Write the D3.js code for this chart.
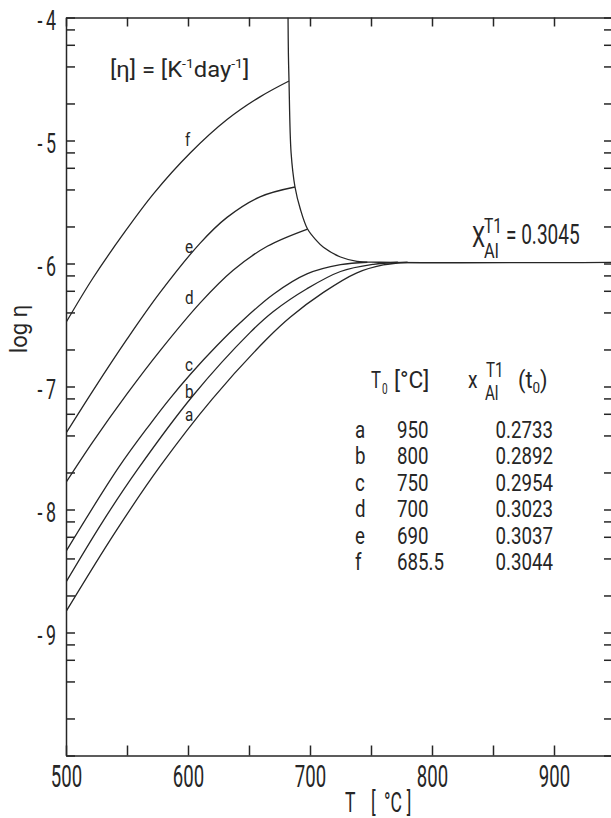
<!DOCTYPE html>
<html>
<head>
<meta charset="utf-8">
<script src="https://cdn.jsdelivr.net/npm/d3@7"></script>
<style>
  body { margin: 0; background: #fff; }
  svg { display: block; background: #fff; }
  text { font-family: Roboto, "Liberation Sans", sans-serif; font-weight: 400; fill: #262626; }
</style>
</head>
<body>
<svg id="chart" width="611" height="818"></svg>
<script>
// ---- axis ticks ----
const xTickValues = [500, 550, 600, 650, 700, 750, 800, 850, 900, 950];
const xTickLabels = [500, 600, 700, 800, 900];
const yDecades = [-10, -9, -8, -7, -6, -5];
const yTickLabels = [-4, -5, -6, -7, -8, -9];
const minorMantissa = [2, 4, 6, 8];

// ---- log η(T) for each starting temperature T0: [T (°C), log η] ----
const curveA = [[500,-8.83],[540,-8.19],[577,-7.65],[620,-7.10],[665,-6.61],[684,-6.435],[711,-6.235],[738,-6.078],[760,-6.012],[780,-5.99]];
const curveB = [[500,-8.59],[530,-8.10],[559,-7.67],[604,-7.075],[651,-6.56],[670,-6.39],[697.5,-6.205],[725,-6.065],[752,-6.007],[772,-5.99]];
const curveC = [[500,-8.34],[543,-7.66],[569,-7.305],[585,-7.10],[602,-6.90],[624,-6.665],[643,-6.48],[670,-6.25],[697.5,-6.085],[725,-6.01],[747,-5.99]];
const curveD = [[500,-7.78],[522,-7.45],[550,-7.06],[577,-6.71],[610,-6.32],[637,-6.055],[665,-5.86],[698,-5.72]];
const curveE = [[500,-7.38],[522,-7.035],[550,-6.615],[577,-6.237],[610,-5.834],[632,-5.625],[659,-5.458],[687.7,-5.378]];
const curveF = [[500,-6.48],[522,-6.12],[547,-5.76],[572,-5.43],[602,-5.10],[632,-4.83],[659,-4.645],[682.8,-4.516]];

// envelope through the curve end points, running into the x = 0.3045 plateau
const envelope = [[682.0,-4.0],[682.3,-4.3],[682.8,-4.516],[684.5,-5.1],[687.7,-5.378],[692,-5.555],[698,-5.72],[705,-5.81],[711,-5.868],[725,-5.947],[738.5,-5.982],[757,-5.99],[950,-5.99]];

const curveNames = ["a", "b", "c", "d", "e", "f"];
const curveData = [curveA, curveB, curveC, curveD, curveE, curveF];

// ---- table of start conditions ----
const tableT0 = ["950", "800", "750", "700", "690", "685.5"];
const tableXAl = ["0.2733", "0.2892", "0.2954", "0.3023", "0.3037", "0.3044"];
const plateauLabel = "0.3045";

// ---------------------------------------------------------------
const svg = d3.select("#chart");
const ink = "#262626";

const x = d3.scaleLinear().domain([500, 950]).range([66, 615]);
const y = d3.scaleLinear().domain([-4, -10]).range([17.5, 755.5]);

// log-spaced tick set for the η axis
const yTickValues = [-4];
yDecades.forEach(n => {
  yTickValues.push(n);
  minorMantissa.forEach(k => yTickValues.push(n + Math.log10(k)));
});

function txt(px, py, str, size, sx, anchor) {
  const t = svg.append("text")
    .attr("transform", `translate(${px},${py}) scale(${sx},1)`)
    .attr("font-size", size)
    .attr("text-anchor", anchor || "start");
  if (str !== null) t.text(str);
  return t;
}

function styleAxis(g) {
  g.attr("font-family", null).attr("font-size", null).attr("color", ink);
  g.selectAll("path, line").attr("stroke-width", 1.5);
}

// bottom axis with labels
const gBottom = svg.append("g")
  .attr("transform", `translate(0,${y(-10)})`)
  .call(d3.axisBottom(x).tickValues(xTickValues).tickSizeInner(-10).tickSizeOuter(0)
    .tickFormat(d => xTickLabels.includes(d) ? String(d) : ""));
styleAxis(gBottom);
gBottom.selectAll("text")
  .attr("y", null).attr("dy", null).attr("fill", null)
  .attr("font-size", 31)
  .attr("transform", "translate(0,31) scale(0.6,1)");

// top axis
const gTop = svg.append("g")
  .attr("transform", `translate(0,${y(-4)})`)
  .call(d3.axisTop(x).tickValues(xTickValues).tickSizeInner(-9).tickSizeOuter(0).tickFormat(""));
styleAxis(gTop);

// left axis with labels
const gLeft = svg.append("g")
  .attr("transform", `translate(${x(500)},0)`)
  .call(d3.axisLeft(y).tickValues(yTickValues).tickSizeInner(-9).tickSizeOuter(0)
    .tickFormat(d => yTickLabels.includes(d) ? "-\u2009" + Math.abs(d) : ""));
styleAxis(gLeft);
gLeft.selectAll("text")
  .attr("x", null).attr("dy", null).attr("fill", null)
  .attr("font-size", 27)
  .attr("transform", "translate(-10,11.5) scale(0.66,1)");

// right axis
const gRight = svg.append("g")
  .attr("transform", `translate(${x(950)},0)`)
  .call(d3.axisRight(y).tickValues(yTickValues).tickSizeInner(-11).tickSizeOuter(0).tickFormat(""));
styleAxis(gRight);

// plot clip
svg.append("clipPath").attr("id", "plotClip")
  .append("rect").attr("x", x(500)).attr("y", y(-4))
  .attr("width", x(950) - x(500)).attr("height", y(-10) - y(-4));

const line = d3.line()
  .x(d => x(d[0]))
  .y(d => y(d[1]))
  .curve(d3.curveCatmullRom.alpha(0.5));

const plot = svg.append("g").attr("clip-path", "url(#plotClip)");

plot.selectAll("path.eta")
  .data(curveData)
  .join("path")
  .attr("class", "eta")
  .attr("d", line)
  .attr("fill", "none")
  .attr("stroke", ink)
  .attr("stroke-width", 1.3);

plot.append("path")
  .attr("d", line(envelope))
  .attr("fill", "none")
  .attr("stroke", ink)
  .attr("stroke-width", 1.3);

// curve letters placed just above each curve near T = 600 °C
const letterSpots = { a: -7.28, b: -7.09, c: -6.87, d: -6.33, e: -5.915, f: -5.045 };
curveNames.forEach(n => {
  txt(x(597.5), y(letterSpots[n]), n, 19, 0.8);
});

// unit note
const unit = txt(110, 77, null, 22, 1.08);
unit.append("tspan").text("[η] = [K");
unit.append("tspan").attr("font-size", 13).attr("dy", -9).text("-1");
unit.append("tspan").attr("dy", 9).text("day");
unit.append("tspan").attr("font-size", 13).attr("dy", -9).text("-1");
unit.append("tspan").attr("dy", 9).text("]");

// plateau label
txt(472, 247, "X", 29, 0.72);
txt(484, 233, "T1", 20, 0.78);
txt(484, 258, "Al", 21, 0.78);
txt(506, 244, "= " + plateauLabel, 28, 0.68);

// table header
txt(371, 388, "T", 24, 0.7);
txt(382, 394, "0", 14, 0.72);
txt(394, 388, "[°C]", 24, 0.95);
txt(468, 388, "x", 24, 0.8);
txt(486, 377, "T1", 21, 0.72);
txt(485, 400, "Al", 21, 0.72);
const tHead = txt(518, 388, null, 24, 0.9);
tHead.append("tspan").text("(t");
tHead.append("tspan").attr("font-size", 15).attr("dy", 5).text("0");
tHead.append("tspan").attr("dy", -5).text(")");

// table rows
curveNames.forEach((n, i) => {
  const by = 438 + i * 26.4;
  txt(355, by, n, 24, 0.78);
  txt(397, by, tableT0[i], 24, 0.78);
  txt(553, by, tableXAl[i], 24, 0.78, "end");
});

// axis titles
txt(27, 329, null, 24, 0.92, "middle")
  .attr("transform", "translate(27,329) rotate(-90) scale(0.92,1)")
  .text("log η");

const xt = svg.append("g").attr("transform", "translate(345,812) scale(0.65,1)");
xt.append("text").attr("font-size", 27).attr("x", 0).text("T");
xt.append("text").attr("font-size", 27).attr("x", 40).text("[");
xt.append("text").attr("font-size", 27).attr("x", 60).text("°C");
xt.append("text").attr("font-size", 27).attr("x", 95).text("]");
</script>
</body>
</html>
